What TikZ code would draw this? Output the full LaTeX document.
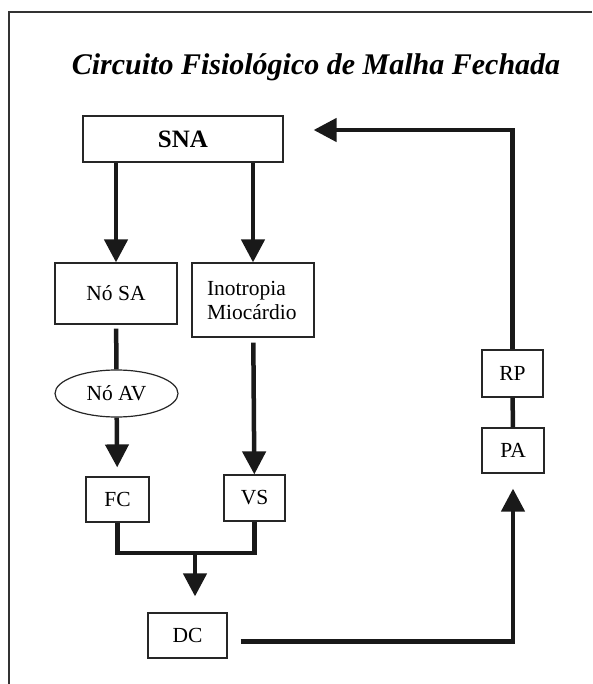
\documentclass[tikz,border=0pt]{standalone}
\usepackage{fontspec}
\setmainfont{Liberation Serif}
\usepackage{tikz}
\usetikzlibrary{shapes.geometric,arrows.meta,positioning}

\begin{document}
\begin{tikzpicture}[x=1pt,y=-1pt,
  %% styles
  blk/.style={rectangle, draw=black!85, line width=1.2pt, fill=white,
              inner sep=0pt, font=\fontsize{21.5}{24}\selectfont},
  oval/.style={ellipse, draw=black!85, line width=1.2pt, fill=white,
               inner sep=0pt, minimum width=123pt, minimum height=47pt,
               font=\fontsize{21.5}{24}\selectfont},
  arr/.style={-{Triangle[length=23pt,width=23pt]}, line width=4.5pt, draw=black!90},
  lnk/.style={line width=4.5pt, draw=black!90},
  ttl/.style={font=\fontsize{30}{34}\selectfont\bfseries\itshape},
]

%% page + scan frame
\useasboundingbox (0,0) rectangle (592,684);
\draw[line width=1.2pt, black!80] (9,684) -- (9,12) -- (592,12);

%% title
\node[ttl] (title) at (316,67) {Circuito Fisiológico de Malha Fechada};

%% ------ blocks ---------------------------------------------------------
\node[blk, minimum width=200pt, minimum height=46pt,
      font=\fontsize{25}{28}\selectfont\bfseries] (sna) at (183,139) {SNA};
\node[blk, minimum width=122pt, minimum height=61pt] (nosa) at (116,293.5) {Nó SA};
\node[blk, minimum width=122pt, minimum height=74pt,
      text width=92pt, align=left] (inot) at (253,300) {Inotropia\\Miocárdio};
\node[oval] (noav) at (116.5,393.5) {Nó AV};
\node[blk, minimum width=63pt, minimum height=45pt] (fc) at (117.5,499.5) {FC};
\node[blk, minimum width=61pt, minimum height=46pt] (vs) at (254.5,498) {VS};
\node[blk, minimum width=79pt, minimum height=45pt] (dc) at (187.5,635.5) {DC};
\node[blk, minimum width=61pt, minimum height=47pt] (rp) at (512.5,373.5) {RP};
\node[blk, minimum width=62pt, minimum height=45pt] (pa) at (513,450.5) {PA};

%% ------ connectors -----------------------------------------------------
%% SNA splits down
\draw[arr] (sna.south -| nosa.north) -- (nosa.north);
\draw[arr] (sna.south -| inot.north) -- (inot.north);

%% left branch
\draw[lnk, shorten <=4pt] (nosa) -- (noav);
\draw[arr, shorten >=9pt] (noav) -- (fc);

%% right branch
\draw[arr, shorten <=5pt] (inot) -- (vs);

%% FC and VS merge into DC
\coordinate (mrg) at (195,553);
\draw[lnk] (fc.south) |- (mrg) -| (vs.south);
\draw[arr, shorten >=16pt] (mrg) -- (mrg |- dc.north);

%% feedback loop
\coordinate (dcout) at ([xshift=13pt,yshift=-6pt]dc.east);
\draw[arr, shorten >=15pt] (dcout) -| (pa.south);
\draw[lnk] (pa) -- (rp);
\draw[arr, shorten >=30pt] (rp.north) |- ([yshift=9pt]sna.east);

\end{tikzpicture}
\end{document}
